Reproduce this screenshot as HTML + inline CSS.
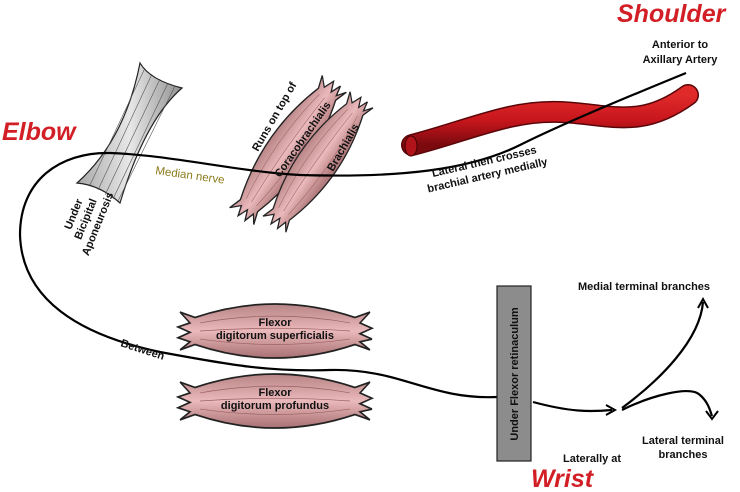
<!DOCTYPE html>
<html><head><meta charset="utf-8"><style>
body{margin:0;background:#fff}
svg{display:block;font-family:"Liberation Sans",Arial,sans-serif}
.b{font-weight:bold;font-size:11px;fill:#111}
.r{font-weight:bold;font-style:italic;fill:#d21f26;font-size:25px}
</style></head><body>
<svg width="740" height="492" viewBox="0 0 740 492">
<defs>
<linearGradient id="mus" x1="0" y1="0" x2="0" y2="1">
<stop offset="0" stop-color="#b88486"/><stop offset="0.5" stop-color="#eab9bb"/><stop offset="1" stop-color="#a87072"/></linearGradient>
<linearGradient id="art" x1="0" y1="0" x2="0" y2="1">
<stop offset="0" stop-color="#e02a2a"/><stop offset="0.5" stop-color="#c8161d"/><stop offset="1" stop-color="#7a0a0e"/></linearGradient>
<linearGradient id="apo" x1="0" y1="0" x2="1" y2="0">
<stop offset="0" stop-color="#a8a8a8"/><stop offset="0.5" stop-color="#e8e8e8"/><stop offset="1" stop-color="#909090"/></linearGradient>
<g id="muscle">
<path d="M-95,-14 L-80,-10 Q0,-30 80,-10 L95,-14 L85,-6 L97,-2 L85,2 L97,6 L85,8 L95,14 L80,10 Q0,30 -80,10 L-95,14 L-85,8 L-97,5 L-85,1 L-97,-3 L-85,-6 Z" fill="url(#mus)" stroke="#222" stroke-width="1.3"/>
<path d="M-75,-6 Q0,-16 75,-6 M-75,0 Q0,-4 75,0 M-75,6 Q0,14 75,6" stroke="#9a6064" stroke-width="0.5" fill="none"/>
</g>
</defs>

<!-- artery -->
<path d="M412,145 C470,130 510,110 560,112 C610,114 640,130 688,95" stroke="#5a0508" stroke-width="22" fill="none" stroke-linecap="round"/>
<path d="M412,145 C470,130 510,110 560,112 C610,114 640,130 688,95" stroke="url(#art)" stroke-width="19" fill="none" stroke-linecap="round"/>
<ellipse cx="411" cy="146" rx="6" ry="10" fill="#b0141a" stroke="#400" stroke-width="1"/>

<!-- aponeurosis -->
<path d="M140,63 Q150,80 182,88 Q145,120 120,203 Q100,185 77,183 Q125,140 140,63 Z" fill="url(#apo)" stroke="#222" stroke-width="1.2"/>
<path d="M145,68 L90,185 M152,74 L98,190 M160,79 L105,195 M168,83 L113,199 M175,86 L118,201" stroke="#555" stroke-width="0.6"/>

<!-- upper muscles -->
<g transform="translate(288,150) rotate(-55) scale(0.85,1.05)"><use href="#muscle"/></g>
<g transform="translate(318,162) rotate(-55) scale(0.8,1.0)"><use href="#muscle"/></g>

<!-- forearm muscles -->
<g transform="translate(275,331) scale(1,1.35)"><use href="#muscle"/></g>
<g transform="translate(275,401) scale(1,1.35)"><use href="#muscle"/></g>

<!-- nerve -->
<path d="M686,73 C620,100 560,125 520,145 C470,170 400,178 300,175 C240,172 170,155 110,153 C60,152 20,180 20,235 C22,300 80,335 160,352 C230,365 270,372 330,370 C400,368 430,400 497,397" stroke="#000" stroke-width="2.2" fill="none"/>
<path d="M533,402 C570,412 590,412 612,410" stroke="#000" stroke-width="2.2" fill="none"/>
<path d="M606,405 L615,410 L606,415" stroke="#000" stroke-width="2" fill="none"/>
<path d="M622,408 C660,380 700,340 703,302" stroke="#000" stroke-width="2.2" fill="none"/>
<path d="M698,308 L703,299 L708,308" stroke="#000" stroke-width="2" fill="none"/>
<path d="M622,410 C650,396 690,385 700,395 C708,402 710,410 712,416" stroke="#000" stroke-width="2.2" fill="none"/>
<path d="M706,411 L712,419 L718,411" stroke="#000" stroke-width="2" fill="none"/>

<!-- retinaculum -->
<rect x="497" y="286" width="34" height="175" fill="#8c8c8c" stroke="#222" stroke-width="1.2"/>
<text class="b" transform="translate(518,374) rotate(-90)" text-anchor="middle" font-size="11.5">Under Flexor retinaculum</text>

<!-- labels -->
<text class="r" x="617" y="22">Shoulder</text>
<text class="r" x="2" y="140">Elbow</text>
<text class="r" x="531" y="487">Wrist</text>
<text class="b" x="680" y="48" text-anchor="middle">Anterior to</text>
<text class="b" x="680" y="63" text-anchor="middle">Axillary Artery</text>
<text class="b" x="563" y="462">Laterally at</text>
<text class="b" x="578" y="290">Medial terminal branches</text>
<text class="b" x="683" y="444" text-anchor="middle">Lateral terminal</text>
<text class="b" x="683" y="458" text-anchor="middle">branches</text>
<text class="b" x="275" y="326" text-anchor="middle">Flexor</text>
<text class="b" x="275" y="339" text-anchor="middle">digitorum superficialis</text>
<text class="b" x="275" y="396" text-anchor="middle">Flexor</text>
<text class="b" x="275" y="409" text-anchor="middle">digitorum profundus</text>
<text x="155" y="174" fill="#8b7a1a" font-size="11.5" transform="rotate(8 155 174)">Median nerve</text>
<g transform="translate(485,165) rotate(-13)">
<text class="b" x="0" y="0" text-anchor="middle">Lateral then crosses</text>
<text class="b" x="0" y="14" text-anchor="middle">brachial artery medially</text></g>
<text class="b" transform="translate(258,152) rotate(-60)">Runs on top of</text>
<text class="b" transform="translate(280,178) rotate(-55)">Coracobrachialis</text>
<text class="b" transform="translate(333,172) rotate(-60)">Brachialis</text>
<text class="b" transform="translate(120,346) rotate(18)">Between</text>
<g transform="translate(88,220) rotate(-68)">
<text class="b" x="0" y="-12" text-anchor="middle">Under</text>
<text class="b" x="0" y="1" text-anchor="middle">Bicipital</text>
<text class="b" x="0" y="14" text-anchor="middle">Aponeurosis</text></g>
</svg>
</body></html>
